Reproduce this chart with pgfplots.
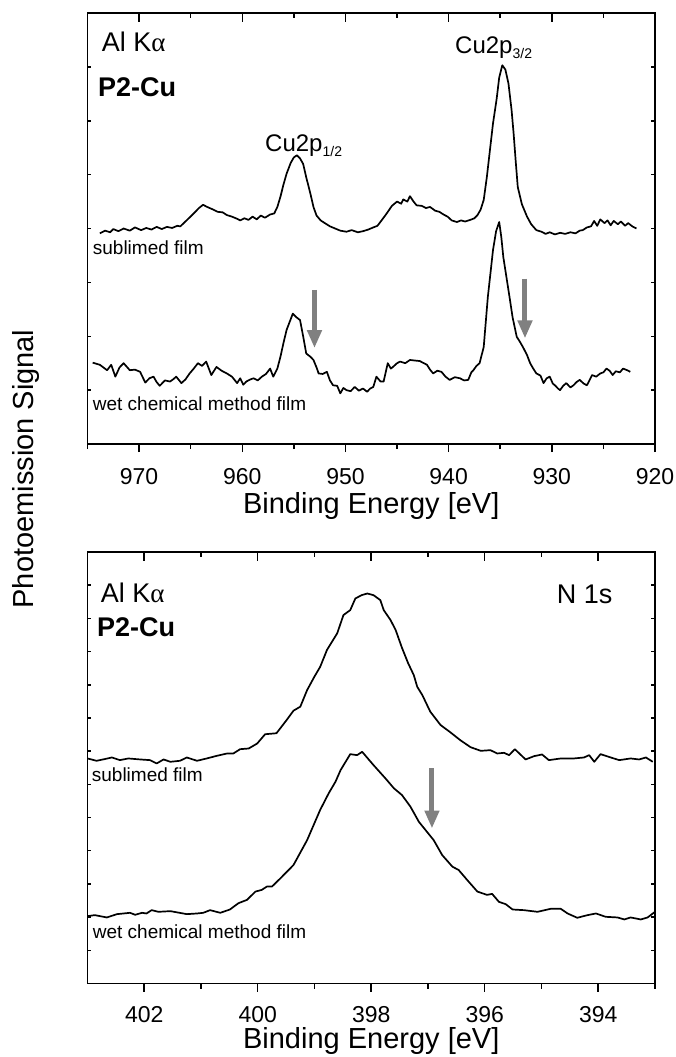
\documentclass[border=0pt]{standalone}
\usepackage{fontspec}
\setmainfont{Liberation Sans}
\newfontfamily\greekfont{Liberation Serif}
\usepackage{pgfplots}
\pgfplotsset{compat=1.18}
\usetikzlibrary{arrows.meta}

\definecolor{arrowgray}{RGB}{128,128,128}

\pgfplotsset{
  panel/.style={scale only axis, width=567.5pt, anchor=south west,
    x dir=reverse, axis line style={line width=1.8pt},
    tick style={line width=1.5pt, black}},
  frameax/.style={panel, xtick=\empty, ytick distance=1, yticklabels={},
    ytick pos=both, tick align=inside, major tick length=4pt},
  topticks/.style={panel, axis line style={draw=none}, ytick=\empty,
    xtick pos=right, tick align=inside, xticklabels={},
    major tick length=9pt, minor tick length=5pt, minor x tick num=1},
  botticks/.style={panel, axis line style={draw=none}, ytick=\empty,
    xtick pos=left, tick align=outside,
    major tick length=8pt, minor tick length=5pt, minor x tick num=1,
    /pgf/number format/assume math mode=true,
    /pgf/number format/1000 sep={},
    xticklabel style={font=\fontsize{23}{23}\selectfont, anchor=north, inner sep=0pt},
    xlabel={Binding Energy [eV]},
    every axis x label/.style={at={(axis description cs:0.5,0)}, anchor=base,
      font=\fontsize{29}{29}\selectfont}},
  spec/.style={black, line width=1.7pt, no marks, line join=round},
  marker arrow/.style={arrowgray, line width=5pt, no marks,
    -{Triangle[width=14pt,length=18pt]}},
}

\newcommand{\lbl}[1]{\fontsize{#1}{#1}\selectfont}

\begin{document}
\begin{tikzpicture}
\path[use as bounding box] (0pt,0pt) rectangle (676pt,-1057pt);

% ---------------- top panel: Cu 2p ----------------
\begin{axis}[frameax, at={(87.5pt,-444pt)}, height=431pt,
  xmin=920, xmax=975, ymin=0, ymax=8]
\addplot[spec] coordinates {
(973.8,3.91) (973.3,3.96) (972.8,3.93) (972.5,3.99) (972.0,3.95) (971.5,4.00)
(970.9,3.96) (970.4,4.02) (969.8,3.97) (969.3,4.01) (968.8,3.98) (968.3,4.03)
(967.8,3.99) (967.3,4.03) (966.8,4.01) (966.3,4.05) (966.0,4.04) (965.4,4.15)
(964.7,4.28) (964.2,4.38) (963.8,4.44) (963.4,4.40) (962.8,4.35) (962.4,4.31)
(961.9,4.30) (961.5,4.25) (961.0,4.22) (960.5,4.18) (960.2,4.15) (959.8,4.19)
(959.4,4.16) (959.0,4.22) (958.6,4.17) (958.2,4.24) (957.8,4.20) (957.3,4.26)
(956.9,4.28) (956.6,4.40) (956.3,4.59) (956.0,4.82) (955.7,5.02) (955.3,5.22)
(955.0,5.32) (954.7,5.36) (954.4,5.30) (954.1,5.20) (953.8,4.95) (953.4,4.65)
(953.1,4.40) (952.8,4.24) (952.4,4.15) (952.0,4.10) (951.5,4.04) (951.0,4.00)
(950.5,3.96) (949.9,3.94) (949.4,3.97) (948.8,3.93) (948.3,3.95) (947.8,3.98)
(947.3,4.02) (946.9,4.05) (946.5,4.15) (946.0,4.28) (945.5,4.42) (945.0,4.50)
(944.6,4.46) (944.4,4.54) (944.0,4.50) (943.75,4.60) (943.4,4.50) (943.1,4.43)
(942.6,4.42) (942.2,4.38) (941.8,4.40) (941.3,4.33) (940.9,4.31) (940.5,4.26)
(940.1,4.22) (939.7,4.15) (939.2,4.12) (938.8,4.15) (938.4,4.13) (937.9,4.16)
(937.5,4.19) (937.2,4.25) (936.9,4.35) (936.6,4.53) (936.3,4.95) (936.0,5.45)
(935.7,5.95) (935.35,6.40) (935.1,6.80) (934.8,7.03) (934.5,6.95) (934.2,6.69)
(933.9,6.20) (933.7,5.76) (933.5,5.25) (933.3,4.77) (932.9,4.45) (932.4,4.22)
(932.0,4.08) (931.5,3.97) (931.0,3.94) (930.6,3.90) (930.2,3.93) (929.7,3.89)
(929.2,3.92) (928.7,3.90) (928.2,3.93) (927.7,3.91) (927.3,3.96) (927.0,3.97)
(926.6,4.02) (926.2,4.04) (925.9,4.14) (925.6,4.05) (925.3,4.17) (924.9,4.10)
(924.6,4.15) (924.3,4.06) (924.0,4.14) (923.6,4.08) (923.3,4.13) (922.9,4.05)
(922.6,4.10) (922.2,4.04) (921.8,4.00)
};
\addplot[spec] coordinates {
(974.5,1.51) (973.8,1.47) (973.1,1.37) (972.7,1.47) (972.3,1.25) (971.9,1.42)
(971.5,1.50) (970.9,1.37) (970.4,1.38) (969.9,1.34) (969.4,1.14) (969.0,1.22)
(968.6,1.25) (968.3,1.15) (968.0,1.08) (967.5,1.18) (967.0,1.16) (966.7,1.20)
(966.4,1.25) (965.9,1.13) (965.5,1.20) (965.1,1.31) (964.7,1.40) (964.3,1.50)
(963.9,1.45) (963.5,1.53) (963.0,1.28) (962.5,1.43) (962.0,1.36) (961.5,1.31)
(961.0,1.25) (960.5,1.13) (960.2,1.22) (959.9,1.10) (959.6,1.16) (959.2,1.20)
(958.9,1.22) (958.5,1.18) (958.1,1.25) (957.7,1.30) (957.3,1.40) (957.0,1.25)
(956.6,1.40) (956.3,1.62) (956.0,1.88) (955.7,2.12) (955.4,2.27) (955.1,2.42)
(954.8,2.36) (954.4,2.30) (954.1,2.00) (953.8,1.68) (953.4,1.62) (953.1,1.56)
(952.8,1.42) (952.6,1.31) (952.2,1.30) (951.8,1.34) (951.5,1.18) (951.2,1.09)
(950.8,1.08) (950.5,0.94) (950.2,1.04) (949.9,1.00) (949.5,0.98) (949.1,1.06)
(948.7,0.99) (948.3,1.03) (947.9,0.97) (947.6,1.03) (947.3,1.06) (947.0,1.25)
(946.6,1.16) (946.3,1.16) (945.9,1.50) (945.6,1.40) (945.4,1.43) (945.0,1.50)
(944.7,1.53) (944.2,1.50) (943.75,1.56) (943.3,1.55) (942.8,1.54) (942.4,1.50)
(942.1,1.47) (941.8,1.38) (941.5,1.31) (941.1,1.36) (940.7,1.34) (940.3,1.25)
(939.9,1.19) (939.4,1.24) (938.9,1.22) (938.5,1.18) (938.1,1.19) (937.8,1.33)
(937.6,1.37) (937.3,1.45) (937.0,1.50) (936.6,1.80) (936.2,2.73) (935.9,3.25)
(935.7,3.60) (935.4,3.95) (935.1,4.12) (934.9,3.85) (934.7,3.47) (934.4,3.10)
(934.1,2.73) (933.8,2.35) (933.4,1.99) (933.1,1.90) (932.8,1.80) (932.4,1.65)
(932.1,1.50) (931.8,1.40) (931.5,1.31) (931.1,1.27) (930.8,1.13) (930.5,1.22)
(930.2,1.25) (929.9,1.12) (929.7,1.09) (929.4,1.03) (929.2,1.00) (928.9,1.08)
(928.6,1.13) (928.2,1.05) (927.9,1.09) (927.6,1.15) (927.3,1.19) (926.9,1.12)
(926.6,1.09) (926.3,1.20) (926.1,1.28) (925.7,1.25) (925.3,1.31) (925.0,1.33)
(924.7,1.40) (924.4,1.36) (924.1,1.28) (923.8,1.35) (923.4,1.33) (923.1,1.40)
(922.7,1.37) (922.4,1.34)
};
\addplot[marker arrow] coordinates {(953.0,2.86) (953.0,1.78)};
\addplot[marker arrow] coordinates {(932.6,3.07) (932.6,1.96)};
\end{axis}
\begin{axis}[topticks, at={(87.5pt,-444pt)}, height=431pt,
  xmin=920, xmax=975, ymin=0, ymax=8, xtick distance=10]
\end{axis}
\begin{axis}[botticks, at={(87.5pt,-444pt)}, height=431pt,
  xmin=920, xmax=975, ymin=0, ymax=8, xtick distance=10,
  xticklabel style={yshift=-16pt},
  every axis x label/.append style={yshift=-69.3pt}]
\end{axis}

\node[anchor=base west, inner sep=0pt, font=\lbl{27}] at (101.7pt,-51.7pt) {Al K{\greekfont α}};
\node[anchor=base west, inner sep=0pt, font=\lbl{27}\bfseries] at (98pt,-96.7pt) {P2-Cu};
\node[anchor=base west, inner sep=0pt, font=\lbl{24}] at (265pt,-151pt)
  {Cu2p\raisebox{-5pt}{\lbl{14}1/2}};
\node[anchor=base west, inner sep=0pt, font=\lbl{24}] at (455pt,-53.3pt)
  {Cu2p\raisebox{-5pt}{\lbl{14}3/2}};
\node[anchor=base west, inner sep=0pt, font=\lbl{19}] at (92.7pt,-254pt) {sublimed film};
\node[anchor=base west, inner sep=0pt, font=\lbl{19}] at (92.7pt,-410pt) {wet chemical method film};

% ---------------- bottom panel: N 1s ----------------
\begin{axis}[frameax, at={(87.5pt,-983.5pt)}, height=431.5pt,
  xmin=393, xmax=403, ymin=0, ymax=13]
\addplot[spec] coordinates {
(403.0,6.78) (402.84,6.71) (402.7,6.76) (402.57,6.81) (402.43,6.73) (402.28,6.78)
(402.07,6.75) (401.9,6.73) (401.78,6.63) (401.66,6.75) (401.54,6.68) (401.37,6.71)
(401.25,6.81) (401.07,6.71) (400.9,6.78) (400.72,6.86) (400.54,6.93) (400.43,6.93)
(400.31,7.06) (400.16,7.08) (400.01,7.23) (399.87,7.51) (399.67,7.54) (399.49,7.94)
(399.37,8.22) (399.25,8.34) (399.13,8.84) (399.0,9.25) (398.9,9.54) (398.78,10.05)
(398.6,10.55) (398.49,11.1) (398.37,11.25) (398.28,11.6) (398.17,11.7) (398.07,11.75)
(397.96,11.70) (397.84,11.55) (397.78,11.25) (397.66,10.95) (397.57,10.65) (397.46,10.12)
(397.35,9.65) (397.25,9.29) (397.19,8.94) (397.1,8.69) (396.96,8.19) (396.78,7.79)
(396.6,7.56) (396.43,7.33) (396.25,7.12) (396.07,7.01) (395.9,7.03) (395.78,6.93)
(395.66,6.95) (395.57,6.88) (395.47,7.06) (395.28,6.75) (395.13,6.85) (394.99,6.90)
(394.87,6.73) (394.66,6.78) (394.43,6.78) (394.25,6.81) (394.16,6.88) (394.07,6.68)
(393.96,6.91) (393.78,6.81) (393.63,6.73) (393.43,6.78) (393.28,6.75) (393.16,6.81)
(393.04,6.68)
};
\addplot[spec] coordinates {
(403.0,2.03) (402.87,2.06) (402.66,1.99) (402.48,2.09) (402.25,2.13) (402.16,2.07)
(402.04,2.13) (401.96,2.11) (401.87,2.21) (401.75,2.16) (401.54,2.18) (401.25,2.09)
(401.07,2.11) (400.96,2.13) (400.84,2.21) (400.66,2.13) (400.49,2.23) (400.34,2.42)
(400.19,2.52) (400.04,2.77) (399.93,2.82) (399.84,2.92) (399.75,2.92) (399.6,3.17)
(399.37,3.57) (399.13,4.32) (398.9,5.23) (398.75,5.73) (398.63,6.08) (398.54,6.43)
(398.37,6.91) (398.25,6.88) (398.16,6.98) (397.96,6.58) (397.75,6.18) (397.6,5.88)
(397.46,5.68) (397.31,5.33) (397.16,4.87) (396.9,4.32) (396.75,3.87) (396.57,3.52)
(396.46,3.42) (396.31,3.12) (396.13,2.77) (395.96,2.67) (395.87,2.70) (395.75,2.46)
(395.63,2.39) (395.51,2.23) (395.31,2.21) (395.07,2.16) (394.84,2.25) (394.66,2.25)
(394.54,2.11) (394.37,1.98) (394.19,2.06) (394.04,2.11) (393.87,2.01) (393.66,1.99)
(393.54,1.93) (393.43,1.99) (393.25,1.93) (393.13,1.99) (393.0,2.16)
};
\addplot[marker arrow] coordinates {(396.93,6.48) (396.93,4.67)};
\end{axis}
\begin{axis}[topticks, at={(87.5pt,-983.5pt)}, height=431.5pt,
  xmin=393, xmax=403, ymin=0, ymax=13, xtick distance=2]
\end{axis}
\begin{axis}[botticks, at={(87.5pt,-983.5pt)}, height=431.5pt,
  xmin=393, xmax=403, ymin=0, ymax=13, xtick distance=2,
  xticklabel style={yshift=-15pt},
  every axis x label/.append style={yshift=-65pt}]
\end{axis}

\node[anchor=base west, inner sep=0pt, font=\lbl{27}] at (100.7pt,-602.7pt) {Al K{\greekfont α}};
\node[anchor=base west, inner sep=0pt, font=\lbl{27}\bfseries] at (97pt,-636.7pt) {P2-Cu};
\node[anchor=base west, inner sep=0pt, font=\lbl{27}] at (556.7pt,-603.3pt) {N 1s};
\node[anchor=base west, inner sep=0pt, font=\lbl{19}] at (91.7pt,-781pt) {sublimed film};
\node[anchor=base west, inner sep=0pt, font=\lbl{19}] at (92.7pt,-938.7pt) {wet chemical method film};

% shared y label
\node[rotate=90, anchor=base, inner sep=0pt, font=\lbl{29}] at (33pt,-469pt) {Photoemission Signal};
\end{tikzpicture}
\end{document}
